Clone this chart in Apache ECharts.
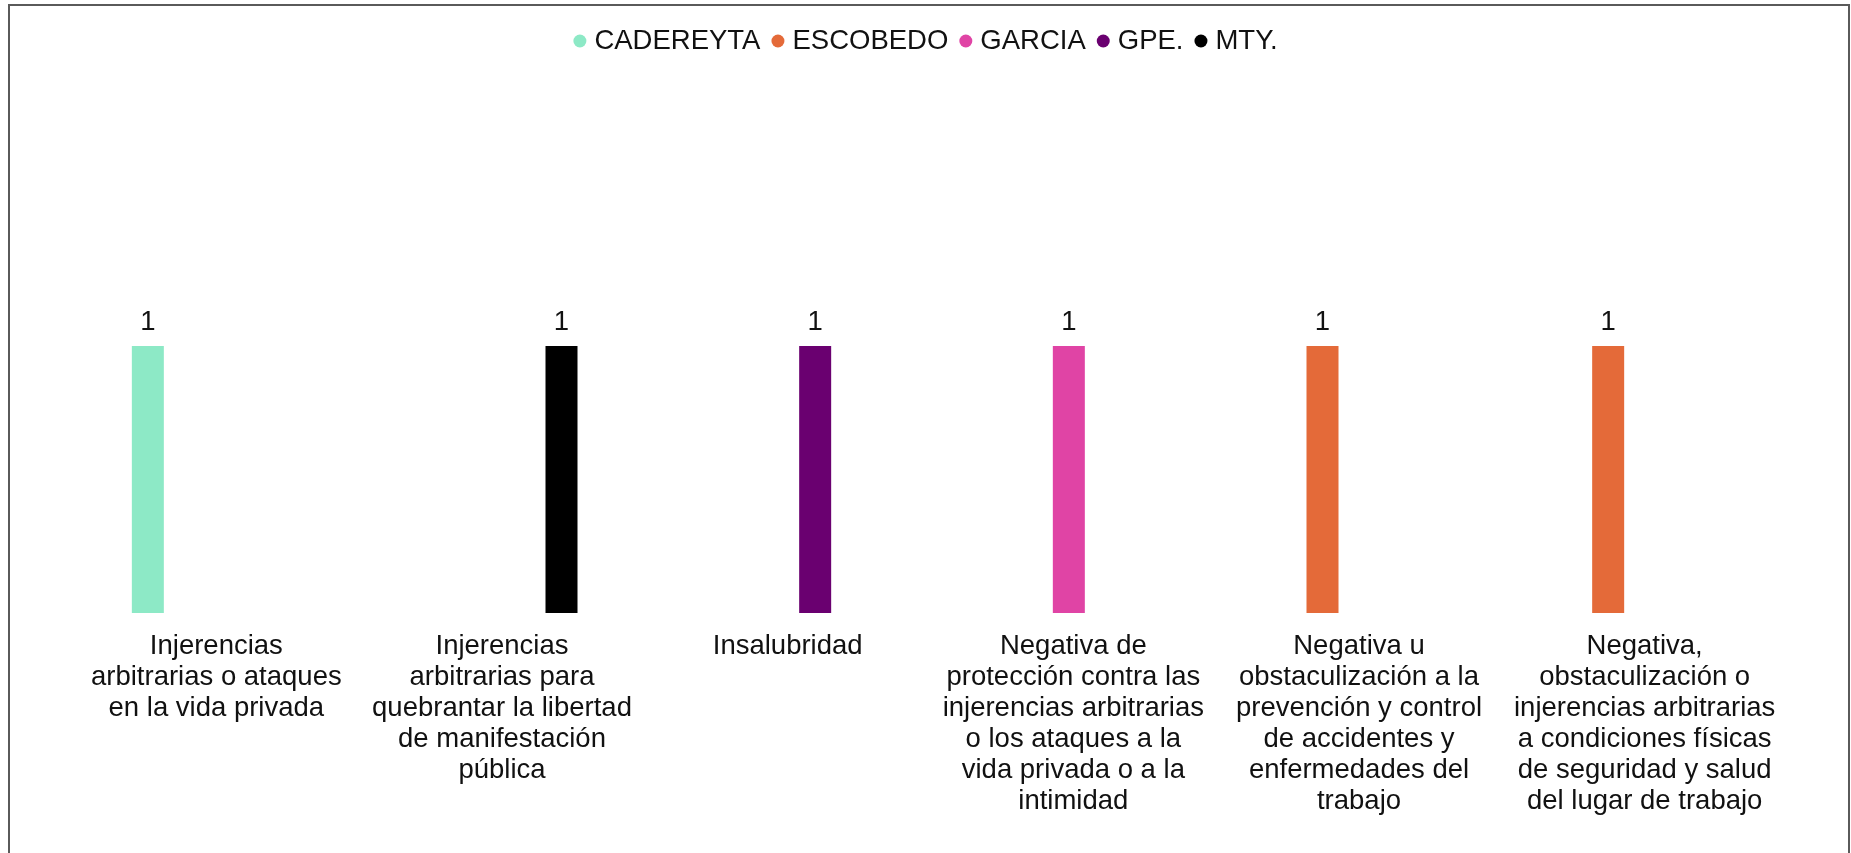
<!DOCTYPE html>
<html>
<head>
<meta charset="utf-8">
<title>Bar chart</title>
<script src="https://cdn.jsdelivr.net/npm/echarts@6/dist/echarts.min.js"></script>
<style>
  html, body {
    margin: 0;
    padding: 0;
    width: 1851px;
    height: 853px;
    overflow: hidden;
    background: #fff;
  }
  #chart {
    position: absolute;
    left: 0;
    top: 0;
    width: 1851px;
    height: 853px;
  }
  .frame {
    position: absolute;
    left: 8px;
    top: 4px;
    width: 1838px;
    height: 900px;
    border: 2px solid #5a5a5a;
    pointer-events: none;
  }
</style>
</head>
<body>
<div id="chart"></div>
<div class="frame"></div>
<script>
// categorias (saltos de linea como en la imagen)
var categories = [
  'Injerencias\narbitrarias o ataques\nen la vida privada',
  'Injerencias\narbitrarias para\nquebrantar la libertad\nde manifestación\npública',
  'Insalubridad',
  'Negativa de\nprotección contra las\ninjerencias arbitrarias\no los ataques a la\nvida privada o a la\nintimidad',
  'Negativa u\nobstaculización a la\nprevención y control\nde accidentes y\nenfermedades del\ntrabajo',
  'Negativa,\nobstaculización o\ninjerencias arbitrarias\na condiciones físicas\nde seguridad y salud\ndel lugar de trabajo'
]

var seriesNames = ['CADEREYTA', 'ESCOBEDO', 'GARCIA', 'GPE.', 'MTY.']
var seriesColors = ['#8de9c6', '#e46a39', '#e044a5', '#6a0070', '#000000']

var cadereyta = [1, null, null, null, null, null]
var escobedo = [null, null, null, null, 1, 1]
var garcia = [null, null, null, 1, null, null]
var gpe = [null, null, 1, null, null, null]
var mty = [null, 1, null, null, null, null]

var seriesData = [cadereyta, escobedo, garcia, gpe, mty]

var fontFam = '"Liberation Sans", Arial, sans-serif'

var chartDom = document.getElementById('chart')
var myChart = echarts.init(chartDom)
var option

var series = []
seriesNames.forEach(function (name, i) {
  series.push({
    name: name,
    type: 'bar',
    data: seriesData[i],
    barWidth: 32,
    barGap: '0%',
    itemStyle: { color: seriesColors[i] },
    label: {
      show: true,
      position: 'top',
      distance: 10,
      color: '#111',
      fontSize: 27.5,
      fontFamily: fontFam
    }
  })
})

option = {
  animation: false,
  color: seriesColors,
  legend: {
    data: seriesNames,
    top: 22,
    left: 'center',
    icon: 'circle',
    itemWidth: 13,
    itemHeight: 13,
    itemGap: 11,
    textStyle: {
      color: '#111',
      fontSize: 27.5,
      fontFamily: fontFam,
      padding: [0, 0, 0, 3]
    }
  },
  grid: {
    left: 69,
    right: 68,
    top: 346,
    bottom: 240
  },
  xAxis: {
    type: 'category',
    data: categories,
    axisLine: { show: false },
    axisTick: { show: false },
    axisLabel: {
      interval: 0,
      margin: 18,
      fontSize: 27.5,
      lineHeight: 31,
      color: '#111',
      fontFamily: fontFam,
      padding: [0, 0, 0, 9]
    }
  },
  yAxis: {
    type: 'value',
    min: 0,
    max: 1,
    show: false
  },
  series: series
}

option && myChart.setOption(option)
</script>
</body>
</html>
